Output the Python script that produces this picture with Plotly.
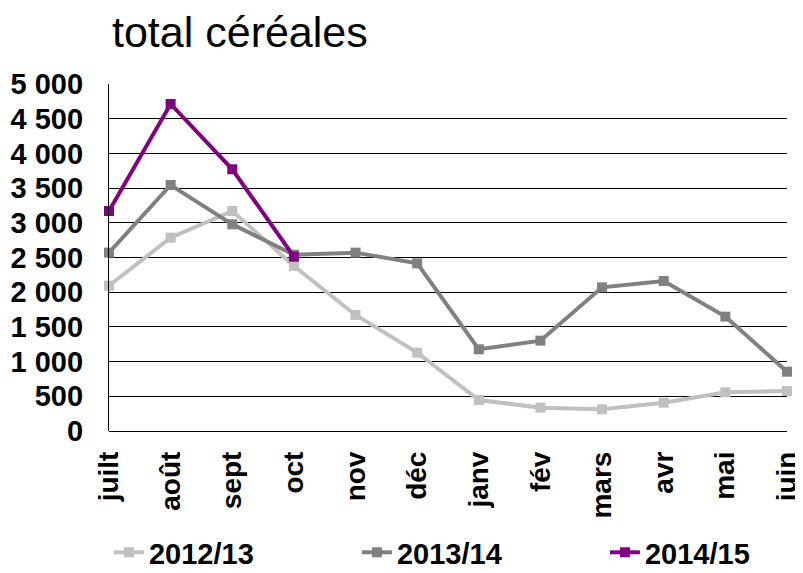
import plotly.graph_objects as go

months = ['juilt', 'août', 'sept', 'oct', 'nov', 'déc', 'janv', 'fév', 'mars', 'avr', 'mai', 'juin']
s_2012 = [2094, 2786, 3170, 2378, 1672, 1129, 447, 336, 312, 408, 557, 576]
s_2013 = [2570, 3545, 2978, 2540, 2570, 2416, 1177, 1302, 2070, 2161, 1648, 855]
s_2014 = [3170, 4712, 3771, 2512]

series = [
    ('2012/13', s_2012, '#C0C0C0'),
    ('2013/14', s_2013, '#808080'),
    ('2014/15', s_2014, '#800080'),
]

font_fam = 'Arial, Liberation Sans, sans-serif'

# the page body has an 8px margin, so the figure is sized 8px smaller
W, H = 795, 565

fig = go.Figure()
for name, vals, col in series:
    fig.add_trace(go.Scatter(
        x=list(range(len(vals))), y=vals, name=name, mode='lines+markers',
        line=dict(color=col, width=4),
        marker=dict(symbol='square', size=10, color=col),
        cliponaxis=False,
    ))

fig.update_layout(
    width=W, height=H,
    margin=dict(l=101, r=16, t=76, b=142, autoexpand=False),
    plot_bgcolor='white',
    paper_bgcolor='white',
    separators=', ',
    font=dict(family=font_fam, color='black'),
    title=dict(
        text='total céréales', xref='container', yref='container',
        x=104 / W, xanchor='left', y=1 - 24 / H, yanchor='middle',
        font=dict(size=43, family=font_fam, color='black'),
    ),
    xaxis=dict(
        range=[0, 11], tickvals=list(range(12)), ticktext=months,
        tickangle=-90, showgrid=False, zeroline=False, automargin=False,
        showline=False, ticks='', ticklabelstandoff=14,
        ticklabeloverflow='allow',
        tickfont=dict(size=28, family=font_fam, color='black', weight='bold'),
    ),
    yaxis=dict(
        range=[0, 5000], dtick=500, tickformat=',d', automargin=False,
        showgrid=True, gridcolor='black', gridwidth=1.3,
        zeroline=True, zerolinecolor='black', zerolinewidth=1.3,
        showline=True, linecolor='black', linewidth=1.3, ticks='',
        ticklabelstandoff=19,
        tickfont=dict(size=29, family=font_fam, color='black', weight='bold'),
    ),
    legend=dict(
        orientation='h', xref='paper', yref='paper',
        x=-0.0001, xanchor='left', y=-0.35, yanchor='middle',
        font=dict(size=29, family=font_fam, color='black', weight='bold'),
        entrywidth=203, itemwidth=30,
    ),
)

fig.write_html('out.html')
